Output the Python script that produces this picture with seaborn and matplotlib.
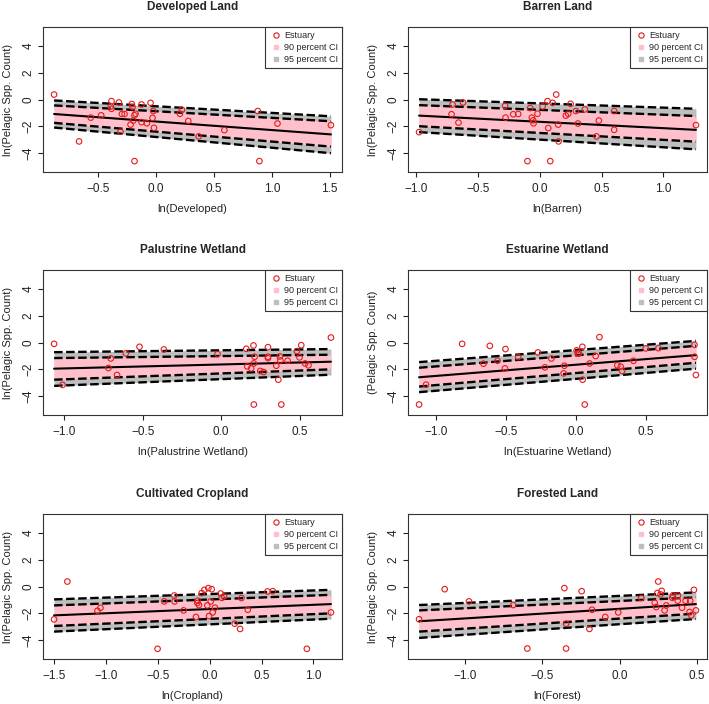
import numpy as np
import pandas as pd
import matplotlib
matplotlib.use("Agg")
import matplotlib.pyplot as plt
from matplotlib.lines import Line2D
import seaborn as sns

# ---- dados ----
dev_x = [-0.883, -0.667, -0.566, -0.476, -0.387, -0.393, -0.387, -0.323, -0.309, -0.297,
         -0.274, -0.222, -0.211, -0.205, -0.199, -0.188, -0.188, -0.179, -0.127, -0.127,
         -0.081, -0.049, -0.026, -0.032, -0.020, 0.205, 0.222, 0.277, 0.367, 0.589,
         0.878, 0.892, 1.048, 1.510]
dev_y = [0.37, -3.12, -1.35, -1.18, -0.12, -0.52, -0.69, -0.22, -2.40, -1.08,
         -1.08, -1.87, -0.34, -0.56, -1.57, -1.18, -4.59, -1.06, -0.37, -1.69,
         -1.77, -0.25, -0.86, -1.37, -2.11, -1.06, -0.76, -1.60, -2.75, -2.28,
         -0.86, -4.59, -1.79, -1.91]
dev_fit = [-1.08, -2.60]
dev_hi95 = [-0.07, -1.25]
dev_hi90 = [-0.44, -1.62]
dev_lo90 = [-1.74, -3.51]
dev_lo95 = [-2.09, -4.00]

bar_x = [-0.973, -0.711, -0.703, -0.655, -0.618, -0.278, -0.275, -0.213, -0.173, -0.098,
         -0.076, -0.063, -0.052, -0.049, -0.017, 0.024, 0.064, 0.070, 0.086, 0.105,
         0.134, 0.150, 0.153, 0.212, 0.231, 0.250, 0.293, 0.310, 0.365, 0.459,
         0.478, 0.602, 0.602, 1.262]
bar_y = [-2.43, -1.10, -0.37, -1.72, -0.22, -0.47, -1.35, -1.10, -1.08, -4.59,
         -0.64, -1.35, -1.55, -1.77, -1.06, -0.52, -0.12, -2.13, -4.59, -0.25,
         0.37, -1.87, -3.12, -1.20, -1.06, -0.32, -0.86, -1.79, -0.74, -2.75,
         -1.57, -0.86, -2.26, -1.91]
bar_fit = [-1.20, -2.26]
bar_hi95 = [0.02, -0.69]
bar_hi90 = [-0.42, -1.23]
bar_lo90 = [-1.99, -3.14]
bar_lo95 = [-2.43, -3.71]

pal_x = [-1.064, -1.010, -0.718, -0.703, -0.663, -0.607, -0.520, -0.365, -0.023, 0.160,
         0.166, 0.191, 0.206, 0.208, 0.208, 0.213, 0.249, 0.270, 0.298, 0.298,
         0.298, 0.351, 0.364, 0.373, 0.377, 0.383, 0.423, 0.482, 0.499, 0.510,
         0.535, 0.556, 0.699]
pal_y = [-0.10, -3.16, -1.90, -1.19, -2.42, -0.81, -0.32, -0.52, -0.86, -0.47,
         -1.78, -1.93, -0.22, -1.56, -4.62, -1.06, -2.12, -2.20, -0.35, -1.06,
         -1.16, -1.73, -2.77, -1.04, -1.33, -4.62, -1.36, -0.64, -1.11, -0.20,
         -1.56, -1.70, 0.37]
pal_fit = [-1.95, -1.43]
pal_hi95 = [-0.72, -0.49]
pal_hi90 = [-1.16, -0.91]
pal_lo90 = [-2.77, -2.00]
pal_lo95 = [-3.23, -2.40]

est_x = [-1.123, -1.073, -0.815, -0.617, -0.662, -0.562, -0.505, -0.509, -0.414, -0.273,
         -0.223, -0.177, -0.089, -0.084, 0.004, 0.011, 0.021, 0.045, 0.047, 0.062,
         0.097, 0.140, 0.167, 0.295, 0.319, 0.329, 0.410, 0.498, 0.589, 0.847,
         0.847, 0.857]
est_y = [-4.62, -3.14, -0.10, -0.25, -1.58, -1.36, -0.49, -1.93, -1.09, -0.74,
         -1.85, -1.19, -2.30, -1.73, -0.59, -0.81, -0.81, -0.32, -2.77, -4.62,
         -1.56, -1.01, 0.40, -1.70, -1.80, -2.12, -1.36, -0.44, -0.42, -0.17,
         -1.06, -2.42]
est_fit = [-2.59, -0.94]
est_hi95 = [-1.46, 0.12]
est_hi90 = [-1.88, -0.25]
est_lo90 = [-3.28, -1.51]
est_lo95 = [-3.70, -1.95]

crop_x = [-1.499, -1.371, -1.081, -1.052, -0.502, -0.438, -0.341, -0.338, -0.251, -0.132,
          -0.119, -0.116, -0.103, -0.077, -0.051, -0.023, -0.013, -0.006, 0.010, 0.019,
          0.029, 0.051, 0.106, 0.116, 0.138, 0.241, 0.293, 0.306, 0.367, 0.557,
          0.608, 0.936, 1.168]
crop_y = [-2.45, 0.37, -1.81, -1.59, -4.64, -1.11, -0.67, -1.11, -1.78, -2.27,
          -1.23, -1.06, -1.38, -0.49, -0.25, -1.41, -0.12, -2.20, -1.11, -0.20,
          -1.93, -1.58, -0.52, -0.84, -0.74, -2.77, -3.16, -0.86, -1.73, -0.37,
          -0.35, -4.64, -1.93]
crop_fit = [-2.15, -1.31]
crop_hi95 = [-0.96, -0.25]
crop_hi90 = [-1.41, -0.62]
crop_lo90 = [-2.94, -2.00]
crop_lo95 = [-3.36, -2.40]

for_x = [-1.299, -1.133, -0.976, -0.689, -0.598, -0.358, -0.347, -0.347, -0.246, -0.196,
         -0.179, -0.093, -0.009, 0.140, 0.227, 0.237, 0.244, 0.250, 0.265, 0.272,
         0.291, 0.302, 0.341, 0.345, 0.376, 0.378, 0.404, 0.427, 0.453, 0.457,
         0.464, 0.481, 0.494]
for_y = [-2.44, -0.20, -1.11, -1.38, -4.62, -0.12, -2.77, -4.62, -0.35, -3.16,
         -1.73, -2.27, -1.93, -0.86, -1.21, -1.53, -0.49, 0.37, -0.59, -0.32,
         -1.78, -1.41, -0.84, -0.67, -1.06, -0.67, -1.58, -1.06, -1.90, -1.06,
         -2.15, -0.25, -1.78]
for_fit = [-2.59, -1.31]
for_hi95 = [-1.38, -0.44]
for_hi90 = [-1.78, -0.81]
for_lo90 = [-3.36, -2.02]
for_lo95 = [-3.83, -2.42]

titulos = ["Developed Land", "Barren Land", "Palustrine Wetland",
           "Estuarine Wetland", "Cultivated Cropland", "Forested Land"]
rotulos_x = ["ln(Developed)", "ln(Barren)", "ln(Palustrine Wetland)",
             "ln(Estuarine Wetland)", "ln(Cropland)", "ln(Forest)"]
rotulos_y = ["ln(Pelagic Spp. Count)", "ln(Pelagic Spp. Count)", "ln(Pelagic Spp. Count)",
             "(Pelagic Spp. Count)", "ln(Pelagic Spp. Count)", "ln(Pelagic Spp. Count)"]
x_ticks = [[-0.5, 0.0, 0.5, 1.0, 1.5], [-1.0, -0.5, 0.0, 0.5, 1.0],
           [-1.0, -0.5, 0.0, 0.5], [-1.0, -0.5, 0.0, 0.5],
           [-1.5, -1.0, -0.5, 0.0, 0.5, 1.0], [-1.0, -0.5, 0.0, 0.5]]

paineis = [
    (dev_x, dev_y, dev_fit, dev_hi95, dev_hi90, dev_lo90, dev_lo95),
    (bar_x, bar_y, bar_fit, bar_hi95, bar_hi90, bar_lo90, bar_lo95),
    (pal_x, pal_y, pal_fit, pal_hi95, pal_hi90, pal_lo90, pal_lo95),
    (est_x, est_y, est_fit, est_hi95, est_hi90, est_lo90, est_lo95),
    (crop_x, crop_y, crop_fit, crop_hi95, crop_hi90, crop_lo90, crop_lo95),
    (for_x, for_y, for_fit, for_hi95, for_hi90, for_lo90, for_lo95),
]

sns.set_style("ticks")
plt.rcParams['font.family'] = ['Liberation Sans', 'DejaVu Sans']

W, H = 709, 704
fig = plt.figure(figsize=(W / 100, H / 100), dpi=100)

lefts = [43, 408]
tops = [27, 270, 514]
ax_w, ax_h = 299, 145

for i, (px, py, fit, hi95, hi90, lo90, lo95) in enumerate(paineis):
    lin, col = divmod(i, 2)
    ax = fig.add_axes([lefts[col] / W, 1 - (tops[lin] + ax_h) / H, ax_w / W, ax_h / H])
    xe = [min(px), max(px)]

    # faixas de confiança
    ax.fill_between(xe, lo95, hi95, color="#BEBEBE", lw=0, zorder=1)
    ax.fill_between(xe, lo90, hi90, color="#FFC0CB", lw=0, zorder=2)

    for banda in [hi95, hi90, lo90, lo95]:
        sns.lineplot(x=xe, y=banda, ax=ax, color="black", lw=1.7,
                     dashes=False, zorder=3)
        ax.lines[-1].set_dashes((3.6, 1.5))
    sns.lineplot(x=xe, y=fit, ax=ax, color="black", lw=1.5, zorder=4)

    sns.scatterplot(x=px, y=py, ax=ax, marker="o", s=16, facecolors="none",
                    edgecolor="#E41A1C", linewidth=0.8, zorder=5)

    rng = max(px) - min(px)
    ax.set_xlim(min(px) - 0.04 * rng, max(px) + 0.04 * rng)
    ax.set_ylim(-5.4, 5.4)
    ax.set_xticks(x_ticks[i])
    ax.set_xticklabels([f"{t:.1f}".replace("-", "\u2212") for t in x_ticks[i]])
    ax.set_yticks([-4, -2, 0, 2, 4])
    ax.set_yticklabels(["\u22124", "\u22122", "0", "2", "4"], rotation=90, va="center")

    ax.tick_params(axis="both", length=3.6, width=0.8, labelsize=8.5, colors="#222222")
    ax.tick_params(axis="x", pad=4)
    ax.tick_params(axis="y", pad=2.5)
    for s in ax.spines.values():
        s.set_linewidth(0.8)
        s.set_color("#333333")

    ax.set_title(titulos[i], fontsize=8.5, fontweight="bold", pad=12)
    ax.set_xlabel(rotulos_x[i], fontsize=8, labelpad=7, color="#222222")
    ax.set_ylabel(rotulos_y[i], fontsize=8, labelpad=7, color="#222222")

    handles = [
        Line2D([], [], marker="o", ls="none", mfc="none", mec="#E41A1C", ms=3.8, mew=0.8),
        Line2D([], [], marker="s", ls="none", mfc="#FFC0CB", mec="#FFC0CB", ms=3.5),
        Line2D([], [], marker="s", ls="none", mfc="#BEBEBE", mec="#BEBEBE", ms=3.5),
    ]
    leg = ax.legend(handles, ["Estuary", "90 percent CI", "95 percent CI"],
                    loc="upper right", borderaxespad=0, fontsize=6.5,
                    fancybox=False, framealpha=1, edgecolor="#333333",
                    handletextpad=0.2, labelspacing=0.35, borderpad=0.45,
                    handlelength=1.4)
    leg.get_frame().set_linewidth(0.8)
    leg.set_zorder(10)

plt.savefig("out.png", dpi=100)
plt.close()
